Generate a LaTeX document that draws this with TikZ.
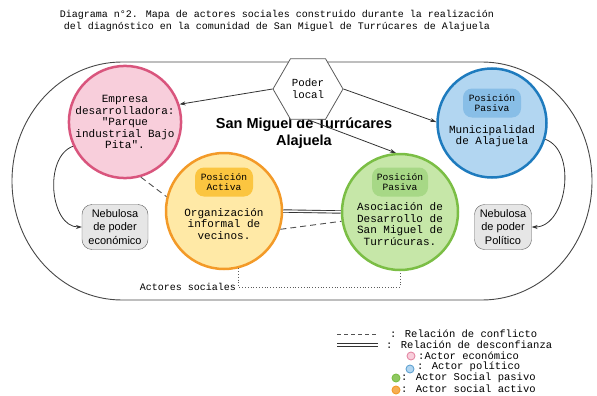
\documentclass[tikz,border=0pt]{standalone}
\usepackage{fontspec}
\newfontfamily\monofont{Liberation Mono}
\newfontfamily\arialfont{Liberation Sans}
\usetikzlibrary{arrows.meta,shapes.geometric}

\definecolor{pinkfill}{HTML}{F8CEDB}
\definecolor{pinkline}{HTML}{D9557D}
\definecolor{bluefill}{HTML}{B2D6F1}
\definecolor{bluebox}{HTML}{88BEE7}
\definecolor{blueline}{HTML}{1E7BBE}
\definecolor{orgfill}{HTML}{FFE9A6}
\definecolor{orgbox}{HTML}{FBC540}
\definecolor{orgline}{HTML}{F39A28}
\definecolor{grnfill}{HTML}{C6E7A8}
\definecolor{grnbox}{HTML}{A7D886}
\definecolor{grnline}{HTML}{7BBE45}
\definecolor{nebfill}{HTML}{E6E6E6}
\definecolor{edge}{HTML}{333333}

\tikzset{
  actor/.style={circle, line width=2.5pt, inner sep=0pt, align=center,
    font=\monofont\fontsize{11}{11.5}\selectfont},
  posbox/.style={rectangle, rounded corners=9pt, minimum width=58pt,
    minimum height=29pt, inner sep=0pt, align=center,
    font=\monofont\fontsize{9.6}{10}\selectfont},
  mtext/.style={align=center, inner sep=0pt, font=\monofont\fontsize{11}{11.5}\selectfont},
  nebbox/.style={rectangle, rounded corners=10pt, draw=edge!80, fill=nebfill,
    minimum height=45pt, inner sep=0pt, align=center,
    font=\arialfont\fontsize{11}{13.5}\selectfont},
  rel/.style={draw=edge, line width=0.8pt, -{Stealth[length=6pt,width=4pt]}},
  conflict/.style={draw=edge!85, line width=0.9pt, dash pattern=on 6pt off 4pt},
  distrust/.style={draw=edge, double=white, double distance=1.5pt, line width=0.9pt},
  social/.style={draw=edge!80, line width=0.8pt, dotted},
  legtext/.style={anchor=west, inner sep=0pt, font=\monofont\fontsize{10.5}{11}\selectfont},
  legdot/.style={circle, minimum size=8pt, inner sep=0pt, line width=0.9pt}
}

\begin{document}
\begin{tikzpicture}[x=1pt,y=1pt]
  \useasboundingbox (0,0) rectangle (597,-396);

  % heading
  \node[align=center, font=\monofont\fontsize{10}{11.6}\selectfont] (title) at (277,-21)
    {Diagrama n°2. Mapa de actores sociales construido durante la realización\\
     del diagnóstico en la comunidad de San Miguel de Turrúcares de Alajuela};

  % community boundary
  \draw[edge!90, line width=0.9pt] (122,-62) -- (482,-62)
    arc[start angle=90, end angle=-90, x radius=110, y radius=119] -- (122,-300)
    arc[start angle=270, end angle=90, x radius=110, y radius=119] -- cycle;

  \node[align=center, font=\arialfont\bfseries\fontsize{14.5}{17}\selectfont] (place) at (304,-133)
    {San Miguel de Turrúcares\\Alajuela};

  % actors
  \node[regular polygon, regular polygon sides=6, minimum size=70pt, draw=edge!80,
        fill=white, line width=0.8pt, align=center, inner sep=0pt,
        font=\monofont\fontsize{10.8}{12}\selectfont] (hex) at (308,-89) {Poder\\local};

  \node[actor, draw=pinkline, fill=pinkfill, minimum size=112pt] (emp) at (125,-122)
    {Empresa\\desarrolladora:\\"Parque\\industrial Bajo\\Pita".};

  \node[actor, draw=blueline, fill=bluefill, minimum size=109pt] (muni) at (492,-123) {};
  \node[posbox, fill=bluebox] (munipos) at ([yshift=20pt]muni.center) {Posición\\Pasiva};
  \node[mtext] (munitxt) at ([yshift=-13pt]muni.center) {Municipalidad\\de Alajuela};

  \node[actor, draw=orgline, fill=orgfill, minimum size=116pt] (org) at (224,-211) {};
  \node[posbox, fill=orgbox] (orgpos) at ([yshift=29pt]org.center) {Posición\\Activa};
  \node[mtext] (orgtxt) at ([yshift=-13pt]org.center) {Organización\\informal de\\vecinos.};

  \node[actor, draw=grnline, fill=grnfill, minimum size=116pt] (asoc) at (400,-212) {};
  \node[posbox, fill=grnbox, minimum width=56pt] (asocpos) at ([yshift=30pt]asoc.center) {Posición\\Pasiva};
  \node[mtext] (asoctxt) at ([yshift=-12pt]asoc.center)
    {Asociación de\\Desarrollo de\\San Miguel de\\Turrúcuras.};

  % nebulas of power
  \node[nebbox, minimum width=66pt] (nebeco) at (115,-227) {Nebulosa\\de poder\\económico};
  \node[nebbox, minimum width=57pt] (nebpol) at (503,-227) {Nebulosa\\de poder\\Político};

  % relations
  \draw[rel] (hex.west) -- (emp.18);
  \draw[rel] (hex.east) -- (muni.179);
  \draw[rel] (hex.south) -- (asoc.94);
  \draw[rel] (emp.205) to[out=200, in=180] (nebeco.west);
  \draw[rel] (muni.-17) to[out=-20, in=0] (nebpol.east);
  \draw[conflict] (emp.-74) -- (org.166);
  \draw[conflict] (org.-18) -- (asoc.189);
  \draw[distrust] (org.east) -- (asoc.west);

  % social actors bracket
  \node[anchor=east, inner sep=0pt, font=\monofont\fontsize{10}{11}\selectfont] (actlbl) at (236,-287)
    {Actores sociales};
  \draw[social] (org.284) -- (org.284 |- actlbl.east) -| (asoc.south);

  % legend
  \coordinate (c1a) at (337,-334);
  \coordinate (c1b) at (378,-334);
  \coordinate (c2a) at (337,-345);
  \coordinate (c2b) at (378,-345);
  \draw[conflict, dash pattern=on 4pt off 3pt] (c1a) -- (c1b);
  \draw[distrust] (c2a) -- (c2b);
  \node[legtext] (leg1) at (390,-334) {: Relación de conflicto};
  \node[legtext] (leg2) at (386,-345) {: Relación de desconfianza};
  \node[legdot, draw=pinkline!70, fill=pinkfill] (dot1) at (411,-356) {};
  \node[legtext] (leg3) at (418,-356) {:Actor económico};
  \node[legdot, draw=blueline!70, fill=bluefill] (dot2) at (410,-369) {};
  \node[legtext] (leg4) at (417,-367) {: Actor político};
  \node[legdot, draw=grnline, fill=grnline!85] (dot3) at (396,-378) {};
  \node[legtext] (leg5) at (401,-378) {: Actor Social pasivo};
  \node[legdot, draw=orgline, fill=orgline!80] (dot4) at (396,-390) {};
  \node[legtext] (leg6) at (401,-389) {: Actor social activo};
\end{tikzpicture}
\end{document}
